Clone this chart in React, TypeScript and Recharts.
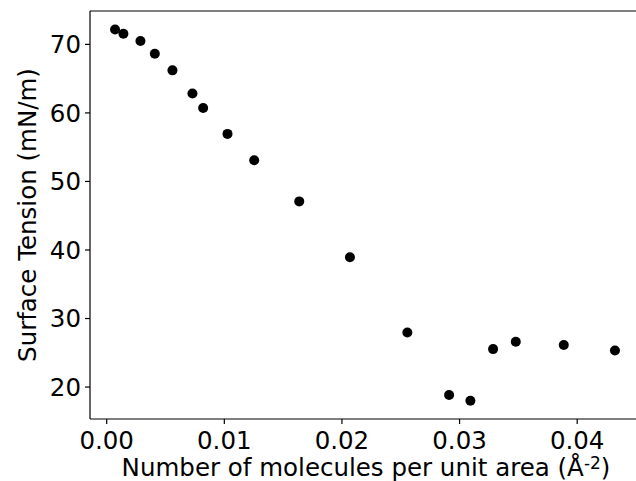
import { ScatterChart, Scatter, XAxis, YAxis, ReferenceLine } from "recharts";

// molecules per unit area (1/Å^2) vs surface tension (mN/m)
const densities = [0.00071, 0.00142, 0.00287, 0.00409, 0.00559, 0.00729, 0.0082, 0.01027, 0.01254, 0.01637, 0.02068, 0.02556, 0.02911, 0.03092, 0.03285, 0.03478, 0.03886, 0.04321];
const tensions = [72.18, 71.56, 70.48, 68.64, 66.21, 62.82, 60.73, 56.94, 53.1, 47.09, 38.94, 27.96, 18.83, 18.0, 25.54, 26.6, 26.13, 25.34];
const xTicks = [0, 0.01, 0.02, 0.03, 0.04];
const yTicks = [20, 30, 40, 50, 60, 70];

const X_DOMAIN: [number, number] = [-0.00142, 0.04534];
const Y_DOMAIN: [number, number] = [15.34, 74.87];

const data = densities.map((d, i) => ({ x: d, y: tensions[i] }));

const FONT = "'DejaVu Sans', sans-serif";
const FS = 24.5;
const tickStyle = { fill: "#000", fontSize: FS, fontFamily: FONT };

function Dot(props: any) {
  return <circle cx={props.cx} cy={props.cy} r={5} fill="#000" />;
}

function XTitle(props: any) {
  const vb = props.viewBox;
  return (
    <text x={366} y={vb.y + 57} textAnchor="middle" fontSize={FS} fontFamily={FONT} fill="#000">
      Number of molecules per unit area (Å<tspan dy={-7} fontSize={17}>-2</tspan><tspan dy={7}>)</tspan>
    </text>
  );
}

function YTitle(props: any) {
  const vb = props.viewBox;
  const cy = vb.y + vb.height / 2;
  return (
    <text x={36} y={cy} transform={`rotate(-90, 36, ${cy})`} textAnchor="middle" fontSize={FS} fontFamily={FONT} fill="#000">
      Surface Tension (mN/m)
    </text>
  );
}

export default function App() {
  return (
    <div style={{ position: "absolute", left: 0, top: 0, width: 636, height: 481, overflow: "hidden", background: "#fff" }}>
      <ScatterChart width={640} height={481} margin={{ top: 11, right: 0, left: 10, bottom: 0 }}>
        <XAxis type="number" dataKey="x" domain={X_DOMAIN} ticks={xTicks} allowDataOverflow
          tickFormatter={(v) => v.toFixed(2)} tick={tickStyle} height={62}
          axisLine={{ stroke: "#000", strokeWidth: 1.2 }} tickLine={{ stroke: "#000", strokeWidth: 1.2 }}
          tickSize={5} tickMargin={8} label={<XTitle />} />
        <YAxis type="number" dataKey="y" domain={Y_DOMAIN} ticks={yTicks} allowDataOverflow
          tick={tickStyle} width={80}
          axisLine={{ stroke: "#000", strokeWidth: 1.2 }} tickLine={{ stroke: "#000", strokeWidth: 1.2 }}
          tickSize={5} tickMargin={4} label={<YTitle />} />
        <ReferenceLine y={Y_DOMAIN[1]} stroke="#000" strokeWidth={1.2} />
        <Scatter data={data} shape={<Dot />} isAnimationActive={false} />
      </ScatterChart>
    </div>
  );
}
